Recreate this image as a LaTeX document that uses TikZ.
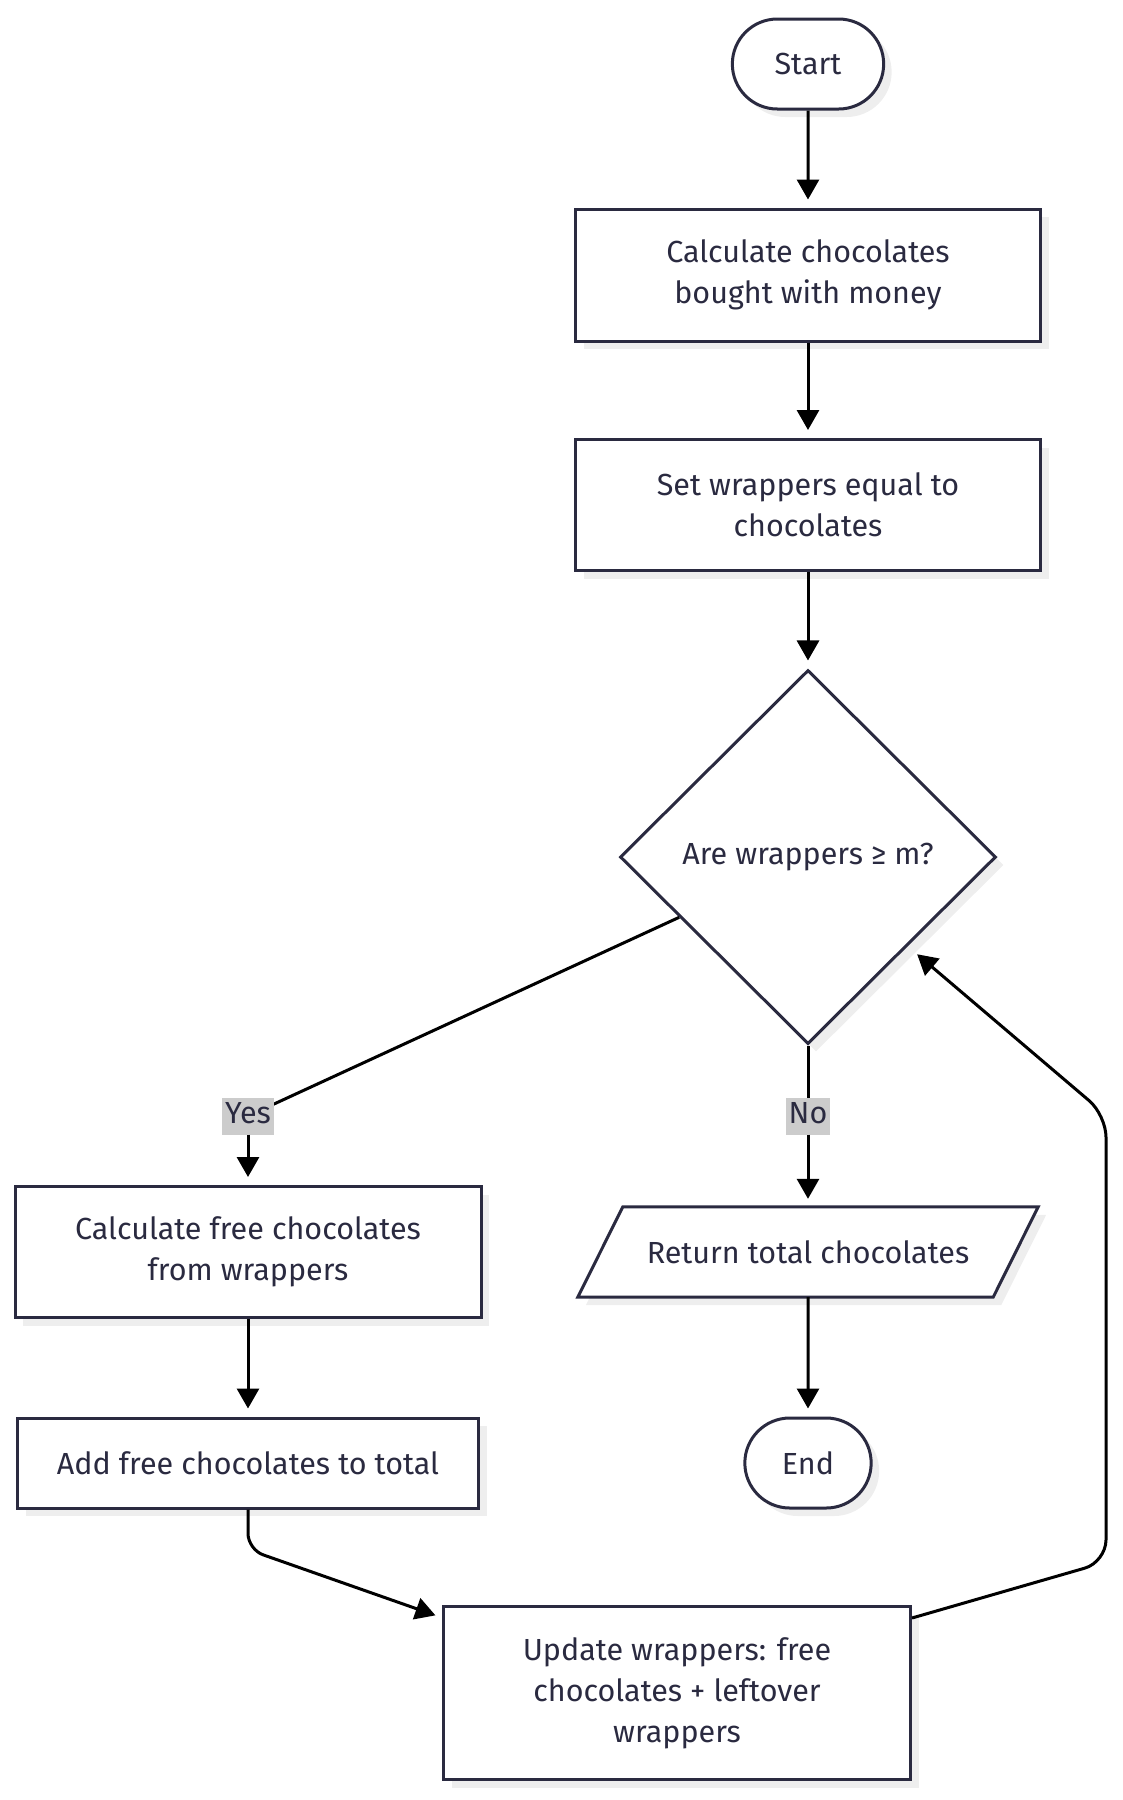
\documentclass[tikz,border=0pt]{standalone}
\usepackage{fontspec}
\setmainfont{Fira Sans}
\usetikzlibrary{shapes.geometric,shapes.misc,shadows,arrows.meta,calc,backgrounds}
\definecolor{ink}{HTML}{2A2A40}
\definecolor{lblgray}{HTML}{CCCCCC}
\definecolor{shade}{HTML}{EEEEEE}

\begin{document}
\begin{tikzpicture}[x=1pt,y=-1pt,
  every node/.style={text=ink,font=\fontsize{30.5}{41}\selectfont},
  shade/.style={drop shadow={shadow xshift=8pt,shadow yshift=-8pt,fill=shade,opacity=1}},
  box/.style={rectangle,draw=ink,line width=3pt,fill=white,align=center,minimum width=465pt,minimum height=132pt,shade},
  term/.style={rounded rectangle,draw=ink,line width=3pt,fill=white,minimum width=158pt,minimum height=90pt,shade},
  decide/.style={diamond,draw=ink,line width=3pt,fill=white,minimum width=376pt,minimum height=374pt,inner sep=0pt,shade},
  io/.style={rectangle,minimum width=415pt,minimum height=90pt},
  ioframe/.style={draw=ink,line width=3pt,fill=white,shade},
  lbl/.style={fill=lblgray,inner xsep=3pt,inner ysep=4pt,text height=22pt,text depth=7pt},
  line/.style={draw=black,line width=3pt},
  flow/.style={line,-{Triangle[length=20pt,width=22pt]},shorten >=8pt}]
\def\colL{248}
\def\colR{808}
\def\slant{22.5}
\useasboundingbox (0,0) rectangle (1123,1800);
\path
(\colR,64) node [term] (start) {Start}
(\colR,275) node [box] (calc) {Calculate chocolates\\bought with money}
(\colR,505) node [box,minimum height=131pt] (wrap) {Set wrappers equal to\\chocolates}
(\colR,857) node [decide] (dec) {Are wrappers ≥ m?}
(\colL,1252) node [box,minimum width=466pt,minimum height=131pt] (free) {Calculate free chocolates\\from wrappers}
(\colR,1252) node [io] (ret) {Return total chocolates}
(\colL,1463) node [box,minimum width=461pt,minimum height=90pt] (add) {Add free chocolates to total}
(\colR,1463) node [term,minimum width=133pt] (end) {End}
(677,1693) node [box,minimum width=467pt,minimum height=173pt] (upd) {Update wrappers: free\\chocolates + leftover\\wrappers}
;
% parallelogram behind the return text
\begin{scope}[on background layer]
\draw[ioframe] ($(ret.south west)+(-\slant,0)$) -- ($(ret.north west)+(\slant,0)$)
  -- ($(ret.north east)+(\slant,0)$) -- ($(ret.south east)+(-\slant,0)$) -- cycle;
\end{scope}
\coordinate (back) at ($(dec.east)!0.43!(dec.south)+(-5,11)$);
\coordinate (rdown) at (1106,1562);
\coordinate (rup) at (1106,1115);
%\draw[help lines] (0,0) grid[step=100] (1123,1800);
\draw[flow] (start) -- (calc);
\draw[flow] (calc) -- (wrap);
\draw[flow] (wrap) -- (dec);
\draw[line] ($(dec.west)!0.32!(dec.south)$) -- (\colL,1116);
\draw[line] (dec) -- (\colR,1116);
\path
(\colL,1116) node [lbl] (yes) {Yes}
(\colR,1116) node [lbl] (no) {No}
;
\draw[flow] (yes) -- (free);
\draw[flow] (no) -- (ret);
\draw[flow] (free) -- (add);
\draw[flow] (ret) -- (end);
\draw[flow,rounded corners=16pt] (add.south) -- ++(0,40) -- ($(upd.north west)+(1,13)$);
\draw[flow,rounded corners=22pt] ($(upd.north east)+(0,13)$) -- (rdown) -- (rup) -- (back);
\end{tikzpicture}
\end{document}
